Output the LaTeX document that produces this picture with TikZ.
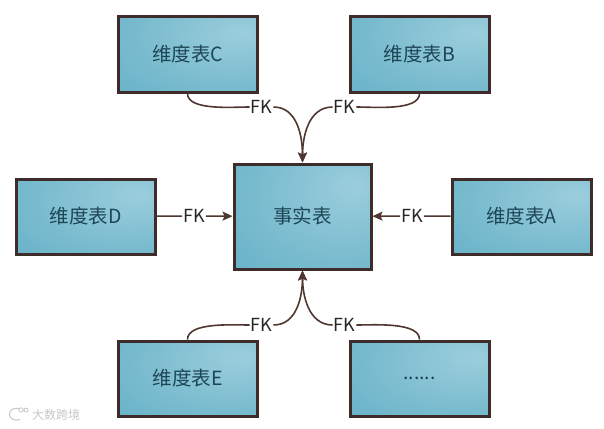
\documentclass[tikz,border=0pt]{standalone}
\usepackage{fontspec}
\setmainfont{Noto Sans CJK SC}
\usepackage{xcolor}
\usetikzlibrary{arrows.meta, positioning}

\definecolor{boxline}{HTML}{3D2C2A}
\definecolor{linkline}{HTML}{4F3630}
\definecolor{boxtext}{HTML}{1D4656}
\definecolor{tealA}{HTML}{9BCEDD}
\definecolor{tealB}{HTML}{80BFD1}
\definecolor{tealC}{HTML}{62AFC6}
\pgfdeclareradialshading{boxglow}{\pgfpoint{20bp}{15bp}}{
    color(0bp)=(tealA);
    color(25bp)=(tealB);
    color(55bp)=(tealC);
    color(100bp)=(tealC)
}

\begin{document}
\begin{tikzpicture}[
    x=1pt, y=1pt,
    node distance=69pt and 76pt,
    tablebox/.style={rectangle, draw=boxline, line width=3pt, shading=boxglow, minimum width=139pt, minimum height=75pt, text=boxtext, font=\fontsize{19.5}{22}\selectfont},
    fklabel/.style={inner sep=1pt, text=black!85, font=\fontsize{18}{20}\selectfont},
    link/.style={draw=linkline, line width=1.6pt},
    linkarrow/.style={link, -{Stealth[length=10pt, width=9pt, inset=2pt]}},
]
\useasboundingbox (0,0) rectangle (604,-428);

\node[tablebox, minimum width=137pt, minimum height=105pt] (fact) at (302.5,-216.5) {事实表};
\node[tablebox, above=of fact, xshift=-115pt] (dimC) {维度表C};
\node[tablebox, above=of fact, xshift=117pt] (dimB) {维度表B};
\node[tablebox, left=of fact] (dimD) {维度表D};
\node[tablebox, right=78pt of fact] (dimA) {维度表A};
\node[tablebox, below=of fact, xshift=-115pt] (dimE) {维度表E};
\node[tablebox, below=of fact, xshift=117pt] (dimX) {......};

\node[fklabel] (fkC) at (261.5,-107) {FK};
\node[fklabel] (fkB) at (344.5,-107) {FK};
\node[fklabel] (fkD) at (194,-216) {FK};
\node[fklabel] (fkA) at (412,-216) {FK};
\node[fklabel] (fkE) at (261.5,-325) {FK};
\node[fklabel] (fkX) at (344.5,-325) {FK};

\draw[link] (dimC.south) to[out=-90, in=180, looseness=0.7] (fkC);
\draw[link] (dimB.south) to[out=-90, in=0, looseness=0.7] (fkB);
\draw[link] (dimD) -- (fkD);
\draw[link] (dimA) -- (fkA);
\draw[link] (dimE.north) to[out=90, in=180, looseness=0.7] (fkE);
\draw[link] (dimX.north) to[out=90, in=0, looseness=0.7] (fkX);

\draw[linkarrow] (fkC) to[out=0, in=90] (fact.north);
\draw[linkarrow] (fkB) to[out=180, in=90] (fact.north);
\draw[linkarrow] (fkD) -- (fact);
\draw[linkarrow] (fkA) -- (fact);
\draw[linkarrow] (fkE) to[out=0, in=-90] (fact.south);
\draw[linkarrow] (fkX) to[out=180, in=-90] (fact.south);

% watermark
\node[text=black!22, font=\fontsize{12}{14}\selectfont, inner sep=0pt] (wmark) at (56,-415) {大数跨境};
\draw[black!22, line width=1pt] (20,-409) arc (60:300:7 and 6);
\draw[black!22, line width=0.8pt] (21,-410) circle (2.2) (26,-410) circle (2);
\end{tikzpicture}
\end{document}
